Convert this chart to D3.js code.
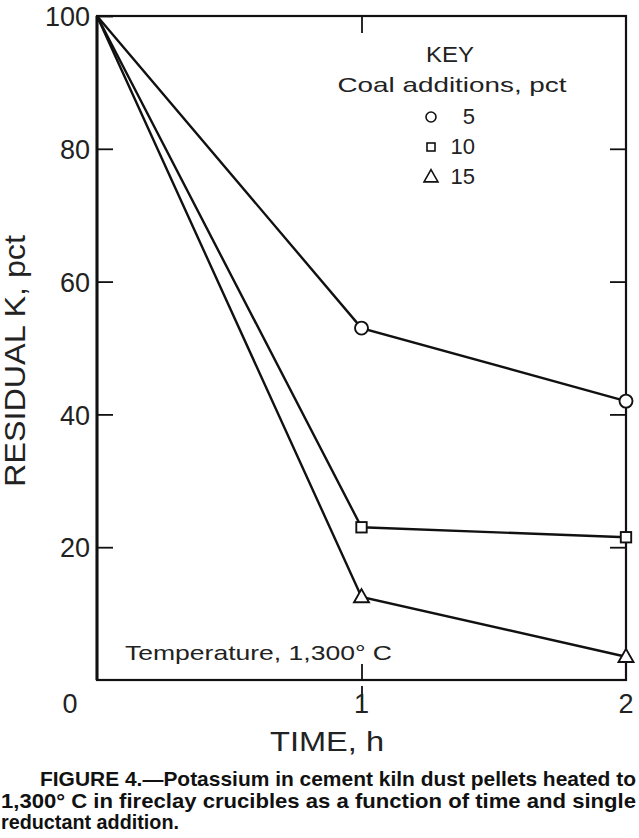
<!DOCTYPE html>
<html>
<head>
<meta charset="utf-8">
<script src="https://cdn.jsdelivr.net/npm/d3@7"></script>
<style>
  html, body { margin: 0; padding: 0; background: #fff; }
  svg { display: block; }
</style>
</head>
<body>
<svg id="chart" width="639" height="838"></svg>
<script>
// ---- data ----
const times = [0, 1, 2];
const coal5 = [100, 53, 42];
const coal10 = [100, 23, 21.5];
const coal15 = [100, 12.5, 3.5];
const seriesLabels = ["5", "10", "15"];
const seriesShapes = ["circle", "square", "triangle"];
const yTicks = [20, 40, 60, 80, 100];
const xTicks = [0, 1, 2];
const xTickLabels = ["0", "1", "2"];
const captionLines = [
  "FIGURE 4.\u2014Potassium in cement kiln dust pellets heated to",
  "1,300\u00b0 C in fireclay crucibles as a function of time and single",
  "reductant addition."
];

const series = [coal5, coal10, coal15].map((vals, i) => ({
  label: seriesLabels[i], shape: seriesShapes[i],
  points: times.map((t, j) => ({ t, v: vals[j] }))
}));

// ---- layout ----
const svg = d3.select("#chart");
const L = 97, R = 626, T = 16, B = 680;
const x = d3.scaleLinear().domain([0, 2]).range([L, R]);
const y = d3.scaleLinear().domain([0, 100]).range([B, T]);
const ink = "#111";
const lightFont = "'Liberation Sans', Arial, sans-serif";

// frame
svg.append("rect").attr("x", L).attr("y", T).attr("width", R - L).attr("height", B - T)
  .attr("fill", "none").attr("stroke", ink).attr("stroke-width", 2.2);
svg.append("line").attr("x1", L).attr("x2", L).attr("y1", T).attr("y2", B)
  .attr("stroke", ink).attr("stroke-width", 3);

// left axis (inward ticks)
const yAxisL = d3.axisLeft(y).tickValues(yTicks).tickSize(-16).tickPadding(7).tickFormat(d3.format("d"));
const gl = svg.append("g").attr("transform", `translate(${L},0)`).call(yAxisL);
gl.select(".domain").remove();
gl.selectAll(".tick line").attr("stroke", ink).attr("stroke-width", 1.8);
gl.selectAll(".tick text").attr("font-family", lightFont).attr("font-size", 27)
  .attr("fill", "#222").attr("dy", "0.36em");

// right axis (inward ticks, no labels)
const yAxisR = d3.axisRight(y).tickValues(yTicks.filter(d => d < 100)).tickSize(-16).tickFormat("");
const gr = svg.append("g").attr("transform", `translate(${R},0)`).call(yAxisR);
gr.select(".domain").remove();
gr.selectAll(".tick line").attr("stroke", ink).attr("stroke-width", 1.8);

// top axis tick
const xAxisT = d3.axisTop(x).tickValues([1]).tickSize(-17).tickFormat("");
const gt = svg.append("g").attr("transform", `translate(0,${T})`).call(xAxisT);
gt.select(".domain").remove();
gt.selectAll(".tick line").attr("stroke", ink).attr("stroke-width", 1.8);

// bottom axis: inward + outward tick at 1
const xAxisIn = d3.axisBottom(x).tickValues([1]).tickSize(-16).tickFormat("");
const gbi = svg.append("g").attr("transform", `translate(0,${B})`).call(xAxisIn);
gbi.select(".domain").remove();
gbi.selectAll(".tick line").attr("stroke", ink).attr("stroke-width", 1.8);
const xAxisOut = d3.axisBottom(x).tickValues([1]).tickSize(22).tickFormat("");
const gbo = svg.append("g").attr("transform", `translate(0,${B + 6})`).call(xAxisOut);
gbo.select(".domain").remove();
gbo.selectAll(".tick line").attr("stroke", ink).attr("stroke-width", 1.8);

// x tick labels
svg.append("g").selectAll("text").data(xTicks).join("text")
  .attr("x", (d, i) => x(d) + (d === 0 ? -27 : 0))
  .attr("y", B + 33)
  .attr("text-anchor", "middle")
  .attr("font-family", lightFont).attr("font-size", 27).attr("fill", "#222")
  .text((d, i) => xTickLabels[i]);

// axis titles
svg.append("text").attr("x", 327).attr("y", 751).attr("text-anchor", "middle")
  .attr("font-family", lightFont).attr("font-size", 28).attr("fill", "#222")
  .attr("textLength", 114).attr("lengthAdjust", "spacingAndGlyphs")
  .text("TIME, h");
svg.append("text").attr("transform", "translate(25,361) rotate(-90)")
  .attr("text-anchor", "middle")
  .attr("font-family", lightFont).attr("font-size", 29).attr("fill", "#222")
  .attr("textLength", 252).attr("lengthAdjust", "spacingAndGlyphs")
  .text("RESIDUAL K, pct");

// lines
const line = d3.line().x(d => x(d.t)).y(d => y(d.v));
svg.append("g").selectAll("path").data(series).join("path")
  .attr("d", d => line(d.points))
  .attr("fill", "none").attr("stroke", ink).attr("stroke-width", 2.4);

// markers
function drawMarker(g, shape, size, sw) {
  if (shape === "circle") {
    g.append("circle").attr("r", size).attr("fill", "#fff").attr("stroke", ink).attr("stroke-width", sw);
  } else if (shape === "square") {
    g.append("rect").attr("x", -size).attr("y", -size).attr("width", 2 * size).attr("height", 2 * size)
      .attr("fill", "#fff").attr("stroke", ink).attr("stroke-width", sw);
  } else {
    const h = size * 1.75;
    g.append("path").attr("d", `M0,${-h * 0.6}L${size},${h * 0.4}L${-size},${h * 0.4}Z`)
      .attr("fill", "#fff").attr("stroke", ink).attr("stroke-width", sw);
  }
}
series.forEach(s => {
  s.points.filter(p => p.t > 0).forEach(p => {
    const g = svg.append("g").attr("transform", `translate(${x(p.t)},${y(p.v)})`);
    drawMarker(g, s.shape, s.shape === "circle" ? 6.5 : (s.shape === "square" ? 5.2 : 7.5), 1.9);
  });
});

// key
svg.append("text").attr("x", 450).attr("y", 62).attr("text-anchor", "middle")
  .attr("font-family", lightFont).attr("font-size", 22).attr("fill", "#222")
  .attr("textLength", 48).attr("lengthAdjust", "spacingAndGlyphs").text("KEY");
svg.append("text").attr("x", 452).attr("y", 92).attr("text-anchor", "middle")
  .attr("font-family", lightFont).attr("font-size", 21).attr("fill", "#222")
  .attr("textLength", 229).attr("lengthAdjust", "spacingAndGlyphs").text("Coal additions, pct");
series.forEach((s, i) => {
  const cy = 117 + i * 30;
  const g = svg.append("g").attr("transform", `translate(431,${cy})`);
  drawMarker(g, s.shape, s.shape === "circle" ? 5 : (s.shape === "square" ? 4 : 7), 1.6);
  svg.append("text").attr("x", 475).attr("y", cy + 7).attr("text-anchor", "end")
    .attr("font-family", lightFont).attr("font-size", 22).attr("fill", "#222").text(s.label);
});

// annotation
svg.append("text").attr("x", 125).attr("y", 660)
  .attr("font-family", lightFont).attr("font-size", 21).attr("fill", "#222")
  .attr("textLength", 267).attr("lengthAdjust", "spacingAndGlyphs")
  .text("Temperature, 1,300\u00b0 C");

// caption
const capX = [40, 1, 1];
const capW = [596, 635, 178];
svg.append("g").selectAll("text").data(captionLines).join("text")
  .attr("x", (d, i) => capX[i]).attr("y", (d, i) => 786 + i * 21.5)
  .attr("font-family", "'Liberation Sans Narrow', 'Liberation Sans', Arial, sans-serif")
  .attr("font-weight", "bold").attr("font-size", 21).attr("fill", "#111")
  .attr("textLength", (d, i) => capW[i]).attr("lengthAdjust", "spacingAndGlyphs")
  .text(d => d);
</script>
</body>
</html>
